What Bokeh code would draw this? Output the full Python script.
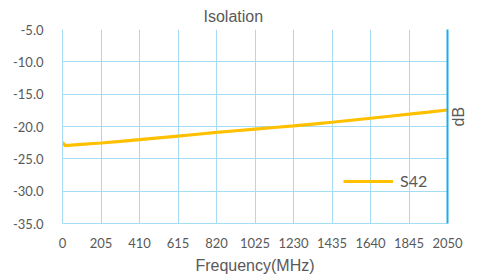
import math
from bokeh.plotting import figure
from bokeh.models import (LinearAxis, FixedTicker, Legend, LegendItem,
                          NumeralTickFormatter, Range1d)
from bokeh.embed import file_html
from bokeh.resources import INLINE

# ---- data ----
freq = [0, 14, 100, 205, 308, 410, 512, 615, 718, 820, 923, 1025, 1128,
        1230, 1333, 1435, 1538, 1640, 1743, 1845, 1948, 2050]
s42 = [-22.45, -22.96, -22.75, -22.55, -22.30, -22.04, -21.76, -21.48,
       -21.20, -20.92, -20.66, -20.40, -20.15, -19.90, -19.62, -19.34,
       -19.03, -18.72, -18.41, -18.10, -17.78, -17.45]
x_ticks = [0, 205, 410, 615, 820, 1025, 1230, 1435, 1640, 1845, 2050]
y_ticks = [-35, -30, -25, -20, -15, -10, -5]
series_name = "S42"
title_text = "Isolation"
x_label = "Frequency(MHz)"
y_label = "dB"

GRID = "#a3dcf3"
TEXT = "#595959"
TICK_FONT = "Lato"
LABEL_FONT = "Liberation Sans"

p = figure(width=479, height=278, output_backend="svg", toolbar_location=None,
           x_range=Range1d(0, 2050), y_range=Range1d(-35, -5),
           min_border_left=62, min_border_right=32, min_border_top=28,
           min_border_bottom=55)
p.outline_line_color = None
p.background_fill_color = "white"
p.border_fill_color = "white"

p.title.text = title_text
p.title.align = "left"
p.title.offset = 141
p.title.text_font = LABEL_FONT
p.title.text_font_size = "16px"
p.title.text_font_style = "normal"
p.title.text_color = TEXT
p.title.standoff = 10

line = p.line(freq, s42, line_color="#FFC000", line_width=3.2)

for ax in (p.xaxis[0], p.yaxis[0]):
    ax.axis_line_color = GRID
    ax.major_tick_line_color = None
    ax.minor_tick_line_color = None
    ax.major_tick_out = 0
    ax.major_tick_in = 0
    ax.major_label_text_font = TICK_FONT
    ax.major_label_text_font_size = "13px"
    ax.major_label_text_color = TEXT
    ax.axis_label_text_font = LABEL_FONT
    ax.axis_label_text_font_size = "16px"
    ax.axis_label_text_font_style = "normal"
    ax.axis_label_text_color = TEXT

p.xaxis[0].ticker = FixedTicker(ticks=x_ticks)
p.xaxis[0].major_label_standoff = 14
p.xaxis[0].axis_label = x_label
p.xaxis[0].axis_label_standoff = 6
p.yaxis[0].ticker = FixedTicker(ticks=y_ticks)
p.yaxis[0].formatter = NumeralTickFormatter(format="0.0")
p.yaxis[0].major_label_standoff = 19

p.xgrid.ticker = FixedTicker(ticks=x_ticks)
p.ygrid.ticker = FixedTicker(ticks=y_ticks)
for g in (p.xgrid, p.ygrid):
    g.grid_line_color = GRID
    g.grid_line_width = 1

right = LinearAxis(ticker=FixedTicker(ticks=[]), axis_label=y_label)
right.axis_line_color = "#1aaee8"
right.axis_line_width = 2
right.major_tick_line_color = None
right.minor_tick_line_color = None
right.major_tick_out = 0
right.major_tick_in = 0
right.major_label_standoff = 0
right.axis_label_standoff = 11
right.axis_label_orientation = math.pi / 2
right.axis_label_text_font = LABEL_FONT
right.axis_label_text_font_size = "16px"
right.axis_label_text_font_style = "normal"
right.axis_label_text_color = TEXT
p.add_layout(right, "right")

legend = Legend(items=[LegendItem(label=series_name, renderers=[line])],
                location=(281, 33), border_line_color=None,
                background_fill_alpha=0, padding=0, margin=0,
                glyph_width=50, glyph_height=14, label_height=14,
                label_standoff=7, label_text_font=TICK_FONT,
                label_text_font_size="16px", label_text_color=TEXT)
p.add_layout(legend)

open("out.html", "w").write(file_html(p, INLINE))
